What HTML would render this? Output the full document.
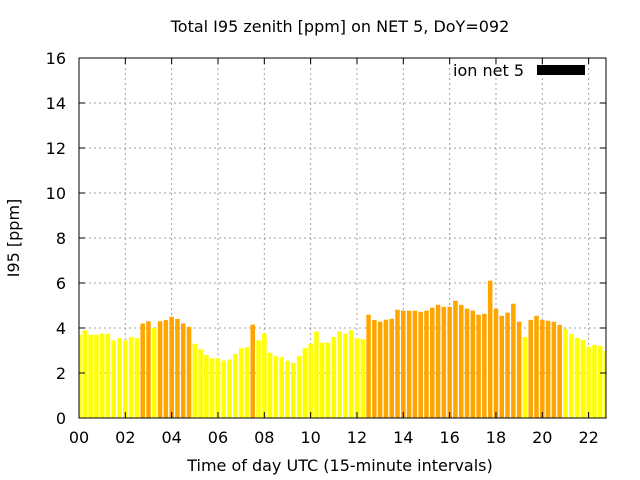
<!DOCTYPE html>
<html><head><meta charset="utf-8"><style>
html,body{margin:0;padding:0;background:#fff;}
svg{display:block;font-family:"DejaVu Sans","Liberation Sans",sans-serif;}
</style></head><body>
<svg id="chart" width="640" height="480">
<text x="340" y="32" font-size="16" text-anchor="middle">Total I95 zenith [ppm] on NET 5, DoY=092</text>
<text x="340" y="471" font-size="16" text-anchor="middle">Time of day UTC (15-minute intervals)</text>
<text transform="translate(19,238) rotate(-90)" font-size="16" text-anchor="middle">I95 [ppm]</text>
<g id="grid"></g><g id="bars"></g><g id="axes"></g>
<text x="524" y="76" font-size="16" text-anchor="end">ion net 5</text>
<rect x="537" y="65" width="48" height="10" fill="#000"/>
</svg>
<script>
const values=[3.7,3.9,3.7,3.7,3.75,3.75,3.45,3.55,3.45,3.6,3.55,4.2,4.3,4.0,4.3,4.35,4.5,4.4,4.2,4.05,3.3,3.05,2.8,2.65,2.65,2.55,2.6,2.85,3.1,3.15,4.15,3.45,3.75,2.9,2.75,2.7,2.55,2.45,2.75,3.1,3.3,3.85,3.35,3.35,3.6,3.85,3.75,3.9,3.55,3.5,
4.59,4.36,4.28,4.37,4.41,4.81,4.77,4.77,4.77,4.72,4.77,4.9,5.03,4.94,4.94,5.21,5.03,4.86,4.77,4.59,4.63,6.1,4.86,4.54,4.68,5.08,4.28,3.6,4.36,4.54,4.36,4.32,4.28,4.14,3.96,3.74,3.56,3.47,3.16,3.25,3.21,2.98];
const yTicks=[0,2,4,6,8,10,12,14,16];
const xTicks=[0,2,4,6,8,10,12,14,16,18,20,22];
const L=79,R=606,T=58,B=418,XMAX=22.75,YMAX=16;
const xs=h=>L+(h/XMAX)*(R-L);
const ys=v=>B-(v/YMAX)*(B-T);
const NS="http://www.w3.org/2000/svg";
function mk(t,a,p){const e=document.createElementNS(NS,t);for(const k in a)e.setAttribute(k,a[k]);p.appendChild(e);return e;}
const grid=document.getElementById('grid'),bars=document.getElementById('bars'),axes=document.getElementById('axes');
yTicks.forEach(v=>{const y=ys(v);
 if(v>0&&v<YMAX){const g=mk('line',{x1:L,x2:R,y1:y,y2:y,stroke:'#a0a0a0','stroke-dasharray':'2,3'},grid);
 
 }
 const t=mk('text',{x:L-13,y:y+6,'font-size':16,'text-anchor':'end'},axes);t.textContent=v;
 
 
 mk('line',{x1:L,x2:L+6,y1:y,y2:y,stroke:'#000'},axes);mk('line',{x1:R,x2:R-6,y1:y,y2:y,stroke:'#000'},axes);
});
xTicks.forEach(h=>{const x=xs(h);
 if(h>0){const g=mk('line',{x1:x,x2:x,y1:T,y2:B,stroke:'#a0a0a0','stroke-dasharray':'2,3'},grid);
 
 }
 const t=mk('text',{x:x,y:B+25,'font-size':16,'text-anchor':'middle'},axes);t.textContent=(h<10?'0':'')+h;
 
 
 mk('line',{x1:x,x2:x,y1:B,y2:B-6,stroke:'#000'},axes);mk('line',{x1:x,x2:x,y1:T,y2:T+6,stroke:'#000'},axes);
});
const bw=(R-L)/(XMAX*4)*0.78;
values.forEach((v,i)=>{const cx=xs(i*0.25);let x0=Math.max(L,cx-bw/2),x1=Math.min(R,cx+bw/2);
 if(x1<=x0)return;
 const b=mk('rect',{x:x0,y:ys(v),width:x1-x0,height:B-ys(v),fill:v>4?'#ffa500':'#ffff00'},bars);
 
 
});
const fr=mk('rect',{x:L,y:T,width:R-L,height:B-T,fill:'none',stroke:'#000','stroke-width':1},axes);


</script>
</body></html>
